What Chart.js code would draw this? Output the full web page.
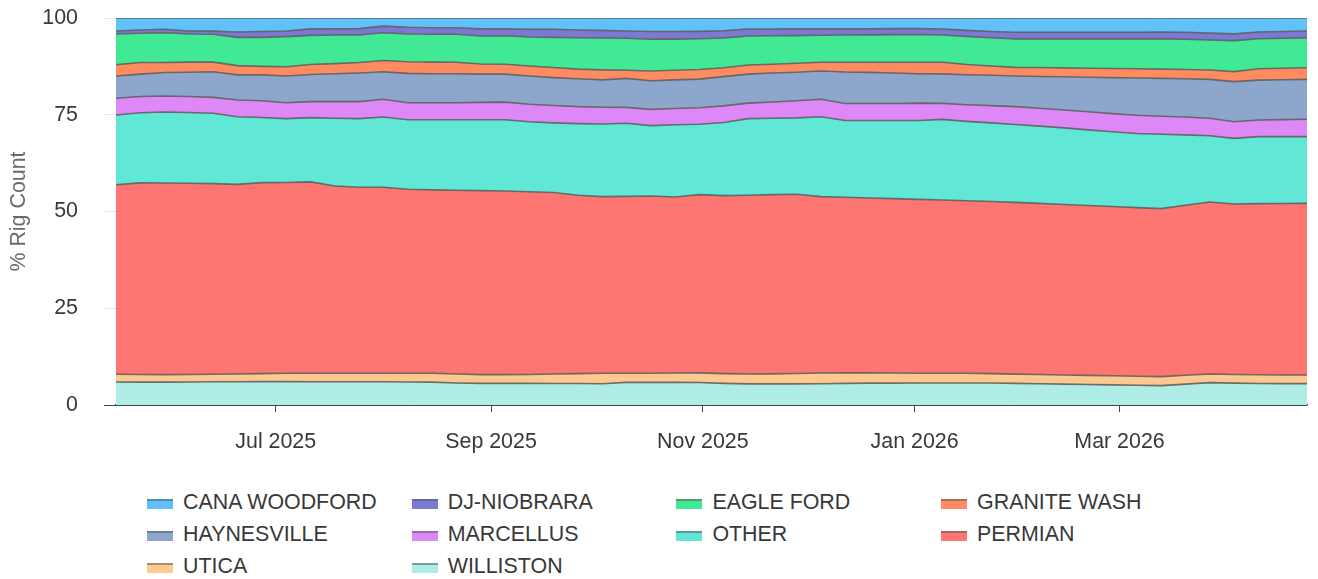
<!DOCTYPE html>
<html>
<head>
<meta charset="utf-8">
<script src="https://cdn.jsdelivr.net/npm/chart.js@4.4.1/dist/chart.umd.min.js"></script>
<style>
  body { margin: 0; background: #fff; font-family: 'Liberation Sans', Arial, sans-serif; }
  #wrap { position: relative; width: 1318px; height: 579px; }
  #chart { position: absolute; left: 0; top: 0; }
  #legend { position: absolute; left: 147px; top: 486px; display: grid; grid-template-columns: repeat(4, 264.7px); }
  .item { display: flex; align-items: center; height: 32px; font-size: 21.4px; color: #383838; white-space: nowrap; }
  .swatch { width: 26px; height: 8px; border-top: 2px solid rgba(90, 90, 90, 0.55); margin: 4px 10px 0 0; box-sizing: content-box; }
</style>
</head>
<body>
<div id="wrap">
  <canvas id="chart" width="1318" height="460"></canvas>
  <div id="legend"></div>
</div>
<script>
// weekly report dates
const weeks = [
  '2025-05-16', '2025-05-23', '2025-05-30', '2025-06-06', '2025-06-13', '2025-06-20', '2025-06-27',
  '2025-07-04', '2025-07-11', '2025-07-18', '2025-07-25', '2025-08-01', '2025-08-08', '2025-08-15',
  '2025-08-22', '2025-08-29', '2025-09-05', '2025-09-12', '2025-09-19', '2025-09-26', '2025-10-03',
  '2025-10-10', '2025-10-17', '2025-10-24', '2025-10-31', '2025-11-07', '2025-11-14', '2025-11-21',
  '2025-11-28', '2025-12-05', '2025-12-12', '2025-12-19', '2025-12-26', '2026-01-02', '2026-01-09',
  '2026-01-16', '2026-01-23', '2026-01-30', '2026-02-06', '2026-02-13', '2026-02-20', '2026-02-27',
  '2026-03-06', '2026-03-13', '2026-03-20', '2026-03-27', '2026-04-03', '2026-04-10', '2026-04-17',
  '2026-04-24'
];
const tickDates = ['2025-07-01', '2025-09-01', '2025-11-01', '2026-01-01', '2026-03-01'];
const tickLabels = ['Jul 2025', 'Sep 2025', 'Nov 2025', 'Jan 2026', 'Mar 2026'];

// % of rig count per basin
const canaWoodford = [3.35, 3.1, 2.9, 3.35, 3.4, 3.6, 3.5, 3.35, 2.8, 2.8, 2.75, 2.1, 2.4, 2.5, 2.5, 2.8, 2.8, 2.9, 2.9, 3.1, 3.2, 3.35, 3.5, 3.5, 3.45, 3.3, 2.85, 2.85, 2.8, 2.8, 2.8, 2.8, 2.75, 2.75, 2.85, 3.2, 3.5, 3.7, 3.7, 3.7, 3.7, 3.7, 3.7, 3.6, 3.7, 3.9, 4.1, 3.6, 3.5, 3.35];
const djNiobrara = [0.78, 0.86, 0.9, 0.78, 0.8, 1.4, 1.5, 1.45, 1.7, 1.6, 1.65, 1.7, 1.73, 1.7, 1.7, 1.85, 1.8, 2.0, 2.1, 2.0, 1.95, 1.9, 2.0, 1.95, 1.9, 1.85, 1.8, 1.75, 1.75, 1.65, 1.6, 1.55, 1.55, 1.5, 1.55, 1.6, 1.6, 1.7, 1.7, 1.7, 1.7, 1.7, 1.7, 1.8, 1.8, 1.8, 1.75, 1.75, 1.75, 1.8];
const eagleFord = [7.97, 7.54, 7.7, 7.27, 7.2, 7.3, 7.5, 7.8, 7.5, 7.4, 7.1, 7.2, 7.17, 7.2, 7.25, 7.25, 7.35, 7.5, 7.8, 8.1, 8.25, 8.25, 8.2, 8.05, 7.95, 7.7, 7.5, 7.35, 7.15, 7.0, 7.05, 7.1, 7.15, 7.2, 7.05, 7.2, 7.3, 7.35, 7.4, 7.5, 7.6, 7.65, 7.7, 7.8, 7.8, 7.75, 8.0, 7.75, 7.75, 7.7];
const graniteWash = [2.9, 3.0, 2.6, 2.6, 2.5, 2.4, 2.2, 2.4, 2.6, 2.6, 2.7, 2.9, 3.0, 3.0, 2.95, 2.6, 2.55, 2.6, 2.6, 2.5, 2.6, 2.1, 2.5, 2.5, 2.5, 2.3, 2.35, 2.25, 2.3, 2.25, 2.5, 2.6, 2.75, 2.95, 3.0, 2.65, 2.4, 2.25, 2.3, 2.3, 2.3, 2.35, 2.4, 2.4, 2.4, 2.4, 2.6, 2.95, 2.95, 3.0];
const haynesville = [5.75, 5.8, 6.05, 6.3, 6.6, 6.5, 6.7, 6.9, 7.0, 7.2, 7.4, 7.1, 7.6, 7.5, 7.5, 7.3, 7.25, 7.3, 7.2, 7.2, 7.05, 7.5, 7.4, 7.4, 7.4, 7.55, 7.5, 7.5, 7.4, 7.3, 8.15, 8.05, 7.9, 7.6, 7.6, 7.75, 7.85, 7.9, 8.23, 8.56, 8.93, 9.3, 9.64, 9.8, 9.9, 10.05, 10.35, 10.3, 10.3, 10.3];
const marcellus = [4.3, 4.2, 4.15, 4.1, 4.1, 4.3, 4.3, 4.1, 4.14, 4.3, 4.4, 4.6, 4.4, 4.4, 4.4, 4.5, 4.55, 4.5, 4.5, 4.4, 4.35, 4.1, 4.2, 4.2, 4.25, 4.3, 4.0, 4.2, 4.4, 4.5, 4.4, 4.4, 4.4, 4.5, 4.15, 4.3, 4.45, 4.6, 4.61, 4.64, 4.67, 4.68, 4.69, 4.65, 4.6, 4.53, 4.3, 4.3, 4.4, 4.5];
const other = [18.05, 18.1, 18.35, 18.3, 18.2, 17.5, 16.85, 16.5, 16.61, 17.5, 17.75, 18.15, 17.95, 18.1, 18.2, 18.3, 18.4, 18.1, 18.0, 18.5, 18.75, 18.9, 18.2, 18.65, 18.2, 18.9, 19.8, 19.75, 19.75, 20.65, 19.83, 20.0, 20.18, 20.36, 20.84, 20.52, 20.3, 20.13, 19.96, 19.78, 19.55, 19.34, 19.17, 19.21, 18.2, 17.11, 16.96, 17.32, 17.28, 17.25];
const permian = [48.97, 49.5, 49.5, 49.4, 49.25, 49.0, 49.35, 49.3, 49.45, 48.4, 48.05, 48.05, 47.55, 47.4, 47.5, 47.55, 47.45, 47.2, 46.9, 46.1, 45.65, 45.7, 45.8, 45.5, 46.05, 46.0, 46.2, 46.3, 46.3, 45.6, 45.37, 45.2, 45.07, 44.94, 44.76, 44.58, 44.5, 44.38, 44.22, 44.05, 43.89, 43.73, 43.56, 43.41, 43.93, 44.45, 44.04, 44.23, 44.31, 44.34];
const utica = [1.98, 2.0, 1.95, 1.95, 1.95, 2.0, 2.05, 2.15, 2.2, 2.2, 2.2, 2.2, 2.25, 2.3, 2.3, 2.25, 2.25, 2.3, 2.45, 2.55, 2.7, 2.35, 2.35, 2.4, 2.5, 2.5, 2.55, 2.6, 2.7, 2.75, 2.7, 2.65, 2.6, 2.5, 2.5, 2.5, 2.41, 2.39, 2.38, 2.37, 2.36, 2.35, 2.34, 2.33, 2.27, 2.23, 2.25, 2.25, 2.24, 2.24];
const williston = [5.95, 5.9, 5.9, 5.95, 6.0, 6.0, 6.05, 6.05, 6.0, 6.0, 6.0, 6.0, 5.95, 5.9, 5.7, 5.6, 5.6, 5.6, 5.55, 5.55, 5.5, 5.85, 5.85, 5.85, 5.8, 5.6, 5.45, 5.45, 5.45, 5.5, 5.6, 5.65, 5.65, 5.7, 5.7, 5.7, 5.69, 5.6, 5.5, 5.4, 5.3, 5.2, 5.1, 5.0, 5.4, 5.78, 5.65, 5.55, 5.52, 5.52];

// legend order (alphabetical) – stacking goes the other way, williston at the bottom
const series = [
  { label: 'CANA WOODFORD', data: canaWoodford, color: '#60c1fb' },
  { label: 'DJ-NIOBRARA', data: djNiobrara, color: '#7b79d2' },
  { label: 'EAGLE FORD', data: eagleFord, color: '#41e995' },
  { label: 'GRANITE WASH', data: graniteWash, color: '#ff8c60' },
  { label: 'HAYNESVILLE', data: haynesville, color: '#8ca7cb' },
  { label: 'MARCELLUS', data: marcellus, color: '#de88f8' },
  { label: 'OTHER', data: other, color: '#61e7d6' },
  { label: 'PERMIAN', data: permian, color: '#fd7671' },
  { label: 'UTICA', data: utica, color: '#ffc88e' },
  { label: 'WILLISTON', data: williston, color: '#aeede6' }
];

const toTime = s => Date.parse(s + 'T00:00:00Z');
const xs = weeks.map(toTime);

Chart.defaults.font.family = "'Liberation Sans', Arial, sans-serif";
Chart.defaults.font.size = 21.4;
Chart.defaults.color = '#383838';

const datasets = series.slice().reverse().map((s, i) => ({
  label: s.label,
  data: s.data.map((v, j) => ({ x: xs[j], y: v })),
  backgroundColor: s.color,
  borderColor: 'rgba(95, 95, 95, 0.9)',
  borderWidth: 1.6,
  pointRadius: 0,
  tension: 0,
  fill: i === 0 ? 'origin' : '-1'
}));

new Chart(document.getElementById('chart'), {
  type: 'line',
  data: { datasets },
  options: {
    responsive: false,
    animation: false,
    layout: { padding: { left: 6, right: 11, top: 6, bottom: 0 } },
    plugins: {
      legend: { display: false },
      tooltip: { enabled: false }
    },
    scales: {
      x: {
        type: 'linear',
        min: xs[0],
        max: xs[xs.length - 1],
        afterBuildTicks: scale => {
          scale.ticks = tickDates.map(d => ({ value: toTime(d) }));
        },
        afterFit: scale => { scale.height = 55; },
        ticks: {
          autoSkip: false,
          maxRotation: 0,
          padding: 17,
          callback: (v, i) => tickLabels[i]
        },
        grid: { drawOnChartArea: false, tickColor: '#444', tickLength: 7 },
        border: { color: '#444', width: 1.5 }
      },
      y: {
        stacked: true,
        min: 0,
        max: 100,
        z: 1,
        afterFit: scale => {
          scale.width = 110;
          scale.paddingTop = 18;
        },
        ticks: { stepSize: 25, padding: 26 },
        grid: {
          tickLength: 12,
          color: ctx => (ctx.tick && ctx.tick.value === 0 ? '#444' : 'rgba(0, 0, 0, 0.09)')
        },
        border: { display: false },
        title: { display: true, text: '% Rig Count', color: '#6a6a6a', padding: 0 }
      }
    }
  }
});

// html legend, 4 aligned columns
const legend = document.getElementById('legend');
series.forEach(s => {
  const item = document.createElement('div');
  item.className = 'item';
  const sw = document.createElement('span');
  sw.className = 'swatch';
  sw.style.background = s.color;
  const txt = document.createElement('span');
  txt.textContent = s.label;
  item.appendChild(sw);
  item.appendChild(txt);
  legend.appendChild(item);
});
</script>
</body>
</html>
